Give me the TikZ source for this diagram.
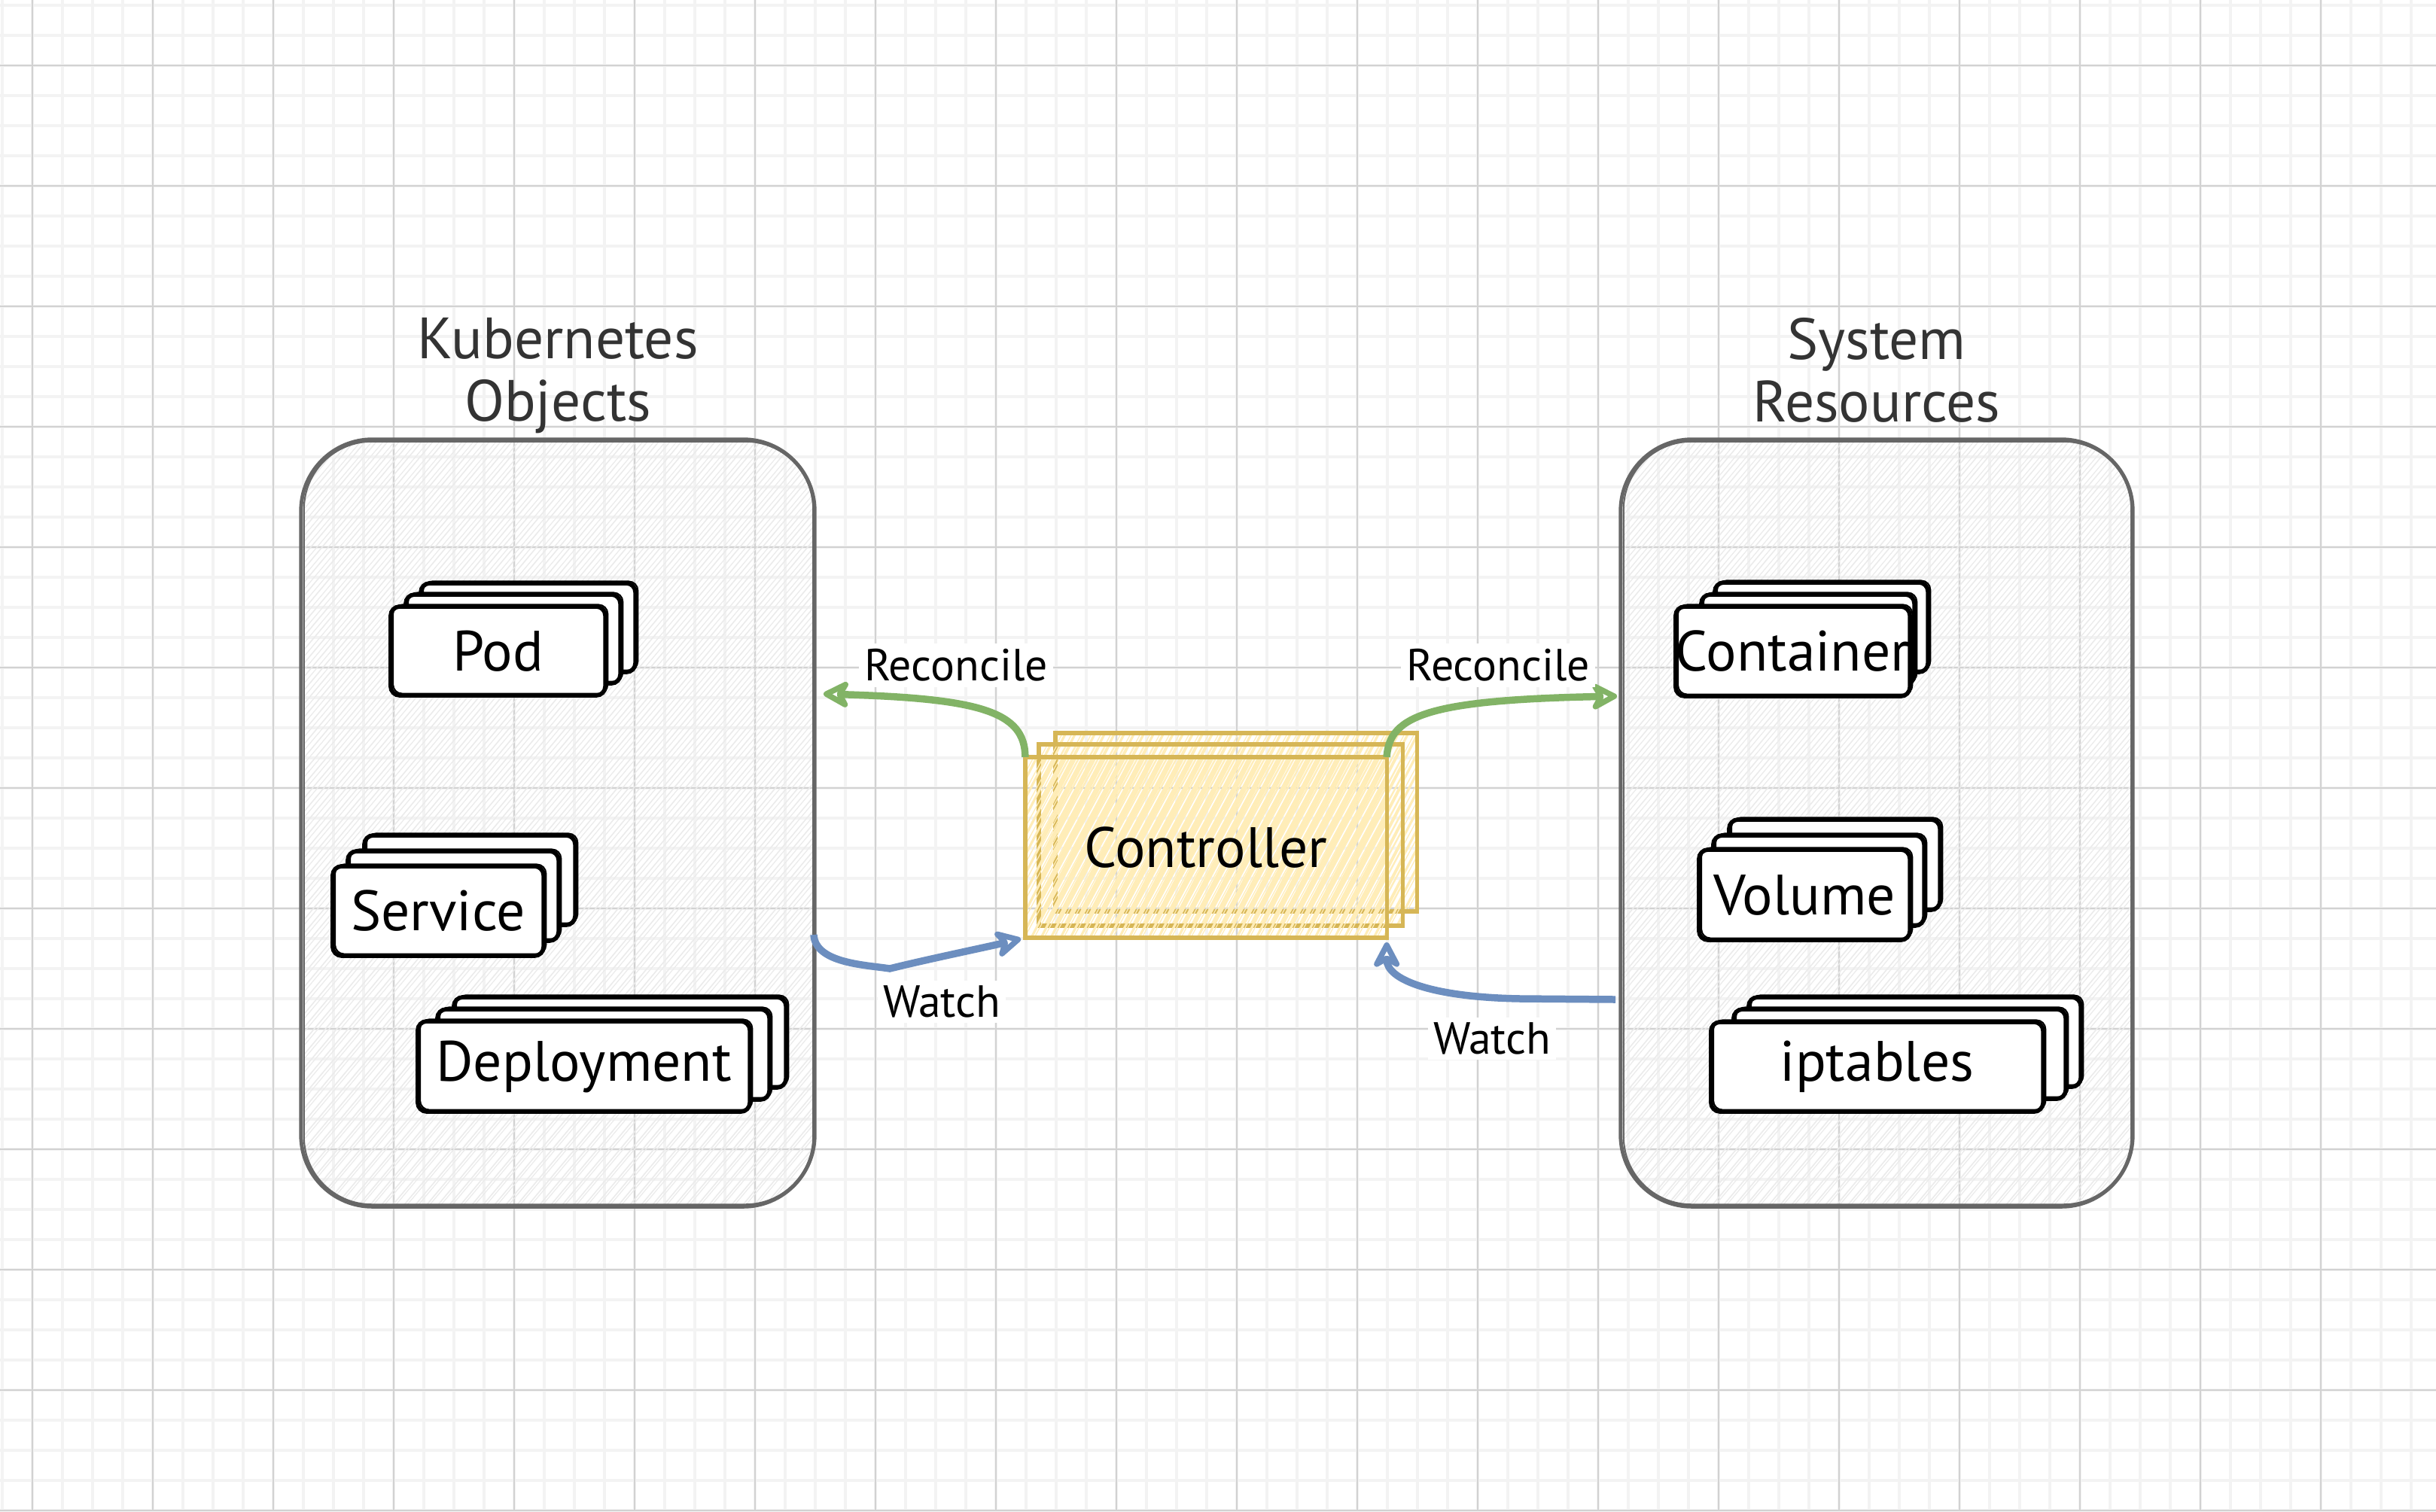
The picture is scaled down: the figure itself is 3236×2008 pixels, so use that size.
\documentclass[tikz,border=0pt]{standalone}
\usepackage{fontspec}
\setmainfont{PT Sans}
\usetikzlibrary{arrows.meta,calc}
\definecolor{grn}{HTML}{82B366}
\definecolor{blu}{HTML}{6C8EBF}
\definecolor{ylw}{HTML}{D6B656}
\definecolor{ylwhatch}{HTML}{FFEDB8}
\definecolor{cont}{HTML}{666666}
\definecolor{ttlc}{HTML}{333333}
\definecolor{gmaj}{HTML}{D2D2D2}
\definecolor{gmin}{HTML}{F3F3F3}
\definecolor{hatchgray}{HTML}{EBEBEB}
\newcommand\cardfont{\fontsize{21.5}{24}\selectfont}
\newcommand\ttlfont{\fontsize{22}{23.6}\selectfont}
\newcommand\edgefont{\fontsize{17}{19}\selectfont}
% count, spacing, run, rise, style
\newcommand\myhatch[5]{%
  \foreach \i in {0,...,#1}{%
    \draw[#5] ($(path picture bounding box.south west)+(\i*#2-#3,0)$) -- ++(#3,-#4);
    \draw[#5, line width=0.35pt] ($(path picture bounding box.south west)+(\i*#2-#3+4,0)$) -- ++(#3+5,-#4);
  }}
\tikzset{
  minorline/.style={gmin, line width=1pt},
  majorline/.style={gmaj, line width=0.5pt},
  container/.style={draw=cont, line width=1.4pt, rounded corners=0.95cm,
    inner sep=0pt, outer sep=0pt,
    path picture={\myhatch{106}{15}{870}{1040}{hatchgray, line width=0.45pt}}},
  card/.style={draw=black, fill=white, line width=1.6pt, rounded corners=0.12cm,
    inner sep=0pt, outer sep=0pt, font=\cardfont, text=black,
    postaction={draw=black, line width=0.6pt, transform canvas={shift={(0.9pt,0.7pt)}}}},
  ctrlbox/.style={draw=ylw, line width=1.5pt, inner sep=0pt, outer sep=0pt,
    font=\cardfont, text=black,
    path picture={\myhatch{50}{13}{135}{260}{ylwhatch, line width=0.9pt}}},
  ttl/.style={font=\ttlfont, text=ttlc, align=center, inner sep=0pt},
  lbl/.style={fill=white, inner sep=2pt, font=\edgefont, text=black},
  tipstyle/.style={-{Stealth[length=12pt,width=12.5pt,inset=3.5pt,fill=white,round]}},
  recon/.style={draw=grn, line width=2.7pt, tipstyle},
  watch/.style={draw=blu, line width=2.7pt, tipstyle},
}
\begin{document}
\begin{tikzpicture}[x=0.01cm, y=-0.01cm]
\useasboundingbox (0,0) rectangle (3236,2008);
\fill[white] (0,0) rectangle (3236,2008);
% grid
\foreach \x in {3,43,...,3236} \draw[minorline] (\x,0) -- (\x,2008);
\foreach \y in {7,47,...,2008} \draw[minorline] (0,\y) -- (3236,\y);
\foreach \x in {43,203,...,3236} \draw[majorline] (\x,0) -- (\x,2008);
\foreach \y in {87,247,...,2008} \draw[majorline] (0,\y) -- (3236,\y);

% containers
\node[container, minimum width=6.82cm, minimum height=10.19cm] (k8s) at (741,1093.5) {};
\node[container, minimum width=6.80cm, minimum height=10.19cm] (sys) at (2493,1093.5) {};
\draw[cont, line width=0.6pt, rounded corners=0.9cm] ([shift={(4,3)}]k8s.north west) rectangle ([shift={(-2,-3)}]k8s.south east);
\draw[cont, line width=0.6pt, rounded corners=0.9cm] ([shift={(4,3)}]sys.north west) rectangle ([shift={(-2,-3)}]sys.south east);
\node[ttl] (k8sT) at (741,499) {Kubernetes\\Objects};
\node[ttl] (sysT) at (2493,492) {System\\Resources};

% Kubernetes objects
\node[card, minimum width=2.85cm, minimum height=1.18cm] (pod3) at (701.5,834) {};
\node[card, minimum width=2.85cm, minimum height=1.18cm] (pod2) at (681.5,849) {};
\node[card, minimum width=2.85cm, minimum height=1.18cm] (pod) at (661.5,865) {Pod};

\node[card, minimum width=2.8cm, minimum height=1.19cm] (svc3) at (624,1169.5) {};
\node[card, minimum width=2.8cm, minimum height=1.19cm] (svc2) at (602,1190.5) {};
\node[card, minimum width=2.8cm, minimum height=1.19cm] (svc) at (582,1210.5) {Service};

\node[card, minimum width=4.41cm, minimum height=1.2cm] (dep3) at (823.5,1385) {};
\node[card, minimum width=4.41cm, minimum height=1.2cm] (dep2) at (801.5,1401) {};
\node[card, minimum width=4.41cm, minimum height=1.2cm] (dep) at (775.5,1417) {Deployment};

% System resources
\node[card, minimum width=2.83cm, minimum height=1.19cm] (ctr3) at (2419.5,833.5) {};
\node[card, minimum width=2.83cm, minimum height=1.19cm] (ctr2) at (2401.5,849.5) {};
\node[card, minimum width=2.83cm, minimum height=1.19cm] (ctr) at (2381.5,865.5) {Container};

\node[card, minimum width=2.8cm, minimum height=1.2cm] (vol3) at (2437,1149) {};
\node[card, minimum width=2.8cm, minimum height=1.2cm] (vol2) at (2416,1170) {};
\node[card, minimum width=2.8cm, minimum height=1.2cm] (vol) at (2397,1189) {Volume};

\node[card, minimum width=4.41cm, minimum height=1.19cm] (ipt3) at (2543.5,1384.5) {};
\node[card, minimum width=4.41cm, minimum height=1.19cm] (ipt2) at (2523.5,1400.5) {};
\node[card, minimum width=4.41cm, minimum height=1.19cm] (ipt) at (2493.5,1417.5) {iptables};

% controller
\node[ctrlbox, minimum width=4.8cm, minimum height=2.37cm] (ctrl3) at (1642,1092.5) {};
\node[ctrlbox, minimum width=4.83cm, minimum height=2.41cm] (ctrl2) at (1621.5,1109.5) {};
\node[ctrlbox, minimum width=4.8cm, minimum height=2.4cm] (ctrl) at (1602,1126) {Controller};

% connector end points on the container edges
\coordinate (recL) at (1094,922);
\coordinate (recR) at (2148,925);
\coordinate (watchL) at (1081,1242);
\coordinate (watchR) at (2146,1328);

% connectors
\draw[recon] (ctrl.north west) .. controls +(0,-61) and +(206,6) .. (recL);
\draw[recon] (ctrl.north east) .. controls +(3,-56) and +(-248,5) .. (recR);
\draw[watch, shorten >=0.06cm] (watchL) .. controls +(2,38) and +(-32,-5) .. (1182,1287)
   .. controls +(48,-12) and +(-50,12) .. (ctrl.south west);
\draw[watch, shorten >=0.06cm] (watchR) -- ++(-126,-1) .. controls +(-120,-2) and +(0,55) .. (ctrl.south east);

% labels
\node[lbl] (recLT) at (1270,884) {Reconcile};
\node[lbl] (recRT) at (1990,884) {Reconcile};
\node[lbl] (watchLT) at (1251,1331) {Watch};
\node[lbl] (watchRT) at (1982,1380) {Watch};
\end{tikzpicture}
\end{document}
